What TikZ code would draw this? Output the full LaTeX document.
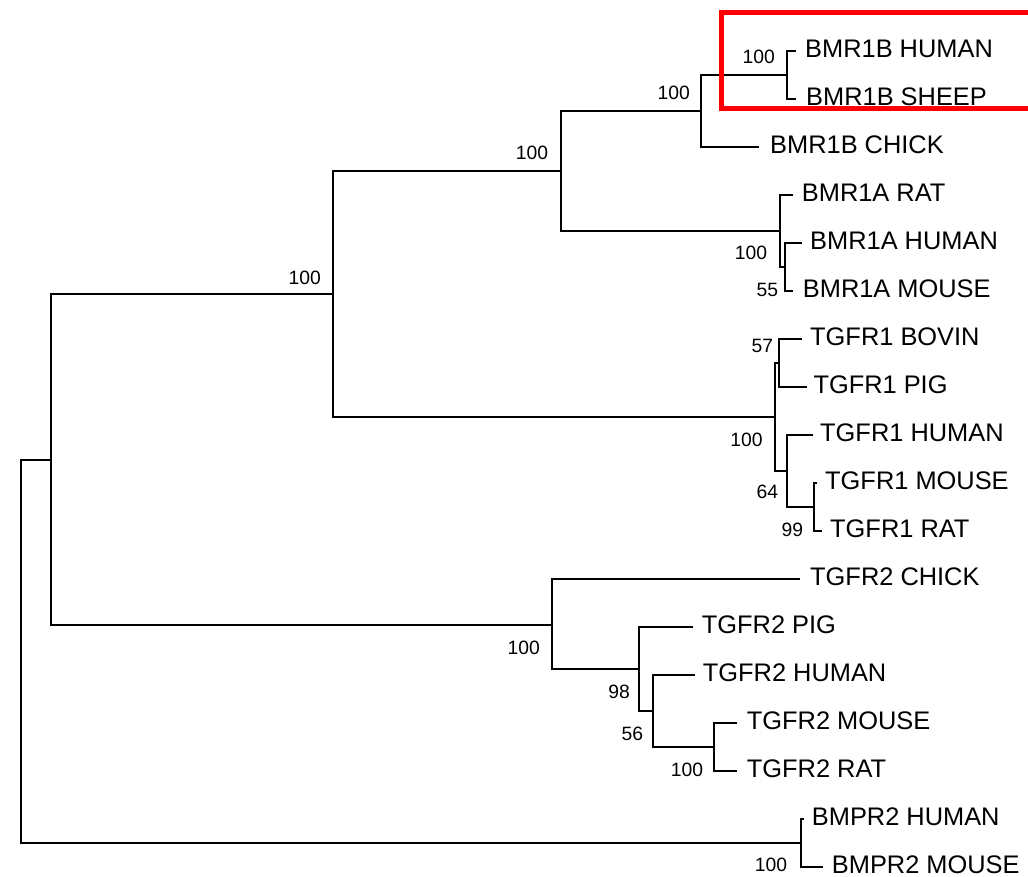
\documentclass[tikz,border=0pt]{standalone}
\usepackage{fontspec}
\setmainfont{Liberation Sans}
\begin{document}
\begin{tikzpicture}[x=1pt,y=-1pt,
  branch/.style={draw=black,line width=2pt,line join=miter},
  leaf/.style={anchor=base west,inner sep=0pt,font=\fontsize{25.4}{30}\selectfont},
  boot/.style={anchor=base east,inner sep=0pt,font=\fontsize{19.3}{23}\selectfont},
  hilite/.style={draw=red,line width=5pt}]
\useasboundingbox (0,0) rectangle (1028,877);
% internal nodes
\coordinate (R) at (21,651.3);
\coordinate (P) at (51,460);
\coordinate (A) at (333,294);
\coordinate (B) at (561,170.7);
\coordinate (C) at (701,110.7);
\coordinate (D) at (787,74.7);
\coordinate (E) at (780,230.7);
\coordinate (F) at (785,266.7);
\coordinate (G) at (775,417);
\coordinate (H) at (779,362.7);
\coordinate (I) at (787,470.7);
\coordinate (J) at (814,506.7);
\coordinate (K) at (552,624.7);
\coordinate (L) at (639,668.7);
\coordinate (M) at (653,710.7);
\coordinate (N) at (714,746.7);
\coordinate (O) at (801,842.7);
% leaf tips
\coordinate (t1) at (796,50.7);
\coordinate (t2) at (796,98.7);
\coordinate (t3) at (759,146.7);
\coordinate (t4) at (793.3,194.7);
\coordinate (t5) at (801.7,242.7);
\coordinate (t6) at (792.7,290.7);
\coordinate (t7) at (801.7,338.7);
\coordinate (t8) at (806.7,386.7);
\coordinate (t9) at (813.3,434.7);
\coordinate (t10) at (817.3,482.7);
\coordinate (t11) at (821.7,530.7);
\coordinate (t12) at (800,578.7);
\coordinate (t13) at (693.3,626.7);
\coordinate (t14) at (695,674.7);
\coordinate (t15) at (737.3,722.7);
\coordinate (t16) at (737.3,770.7);
\coordinate (t17) at (803.7,818.7);
\coordinate (t18) at (823.3,866.7);
% branches
\draw[branch] (P) -| (R) |- (O);
\draw[branch] (A) -| (P) |- (K);
\draw[branch] (B) -| (A) |- (G);
\draw[branch] (C) -| (B) |- (E);
\draw[branch] (D) -| (C) |- (t3);
\draw[branch] (t1) -| (D) |- (t2);
\draw[branch] (t4) -| (E) |- (F);
\draw[branch] (t5) -| (F) |- (t6);
\draw[branch] (H) -| (G) |- (I);
\draw[branch] (t7) -| (H) |- (t8);
\draw[branch] (t9) -| (I) |- (J);
\draw[branch] (t10) -| (J) |- (t11);
\draw[branch] (t12) -| (K) |- (L);
\draw[branch] (t13) -| (L) |- (M);
\draw[branch] (t14) -| (M) |- (N);
\draw[branch] (t15) -| (N) |- (t16);
\draw[branch] (t17) -| (O) |- (t18);
% leaf labels
\node[leaf] (n1) at (805,57.3) {BMR1B HUMAN};
\node[leaf] (n2) at (806,105.3) {BMR1B SHEEP};
\node[leaf] (n3) at (770,153.3) {BMR1B CHICK};
\node[leaf] (n4) at (801.7,201.3) {BMR1A RAT};
\node[leaf] (n5) at (810,249.3) {BMR1A HUMAN};
\node[leaf] (n6) at (802.7,297.3) {BMR1A MOUSE};
\node[leaf] (n7) at (810,345.3) {TGFR1 BOVIN};
\node[leaf] (n8) at (813.3,393.3) {TGFR1 PIG};
\node[leaf] (n9) at (820,441.3) {TGFR1 HUMAN};
\node[leaf] (n10) at (825,489.3) {TGFR1 MOUSE};
\node[leaf] (n11) at (830,537.3) {TGFR1 RAT};
\node[leaf] (n12) at (810,585.3) {TGFR2 CHICK};
\node[leaf] (n13) at (701.7,633.3) {TGFR2 PIG};
\node[leaf] (n14) at (702.7,681.3) {TGFR2 HUMAN};
\node[leaf] (n15) at (746.7,729.3) {TGFR2 MOUSE};
\node[leaf] (n16) at (746.7,777.3) {TGFR2 RAT};
\node[leaf] (n17) at (811.7,825.3) {BMPR2 HUMAN};
\node[leaf] (n18) at (831.7,873.3) {BMPR2 MOUSE};
% bootstrap values
\node[boot] (bD) at (775,64) {100};
\node[boot] (bC) at (690,100) {100};
\node[boot] (bB) at (548.3,160) {100};
\node[boot] (bA) at (321,284.3) {100};
\node[boot] (bE) at (767.3,259.3) {100};
\node[boot] (bF) at (778.3,296.7) {55};
\node[boot] (bH) at (773.3,352.3) {57};
\node[boot] (bG) at (762.7,446) {100};
\node[boot] (bI) at (778.3,498.3) {64};
\node[boot] (bJ) at (803.3,536.7) {99};
\node[boot] (bK) at (540,654.3) {100};
\node[boot] (bL) at (630,698.3) {98};
\node[boot] (bM) at (643.3,740) {56};
\node[boot] (bN) at (703.3,776.7) {100};
\node[boot] (bO) at (787.3,871.7) {100};
% highlight box
\draw[hilite] (1035,13) -- (721.5,13) -- (721.5,109) -- (1035,109);
\end{tikzpicture}
\end{document}
